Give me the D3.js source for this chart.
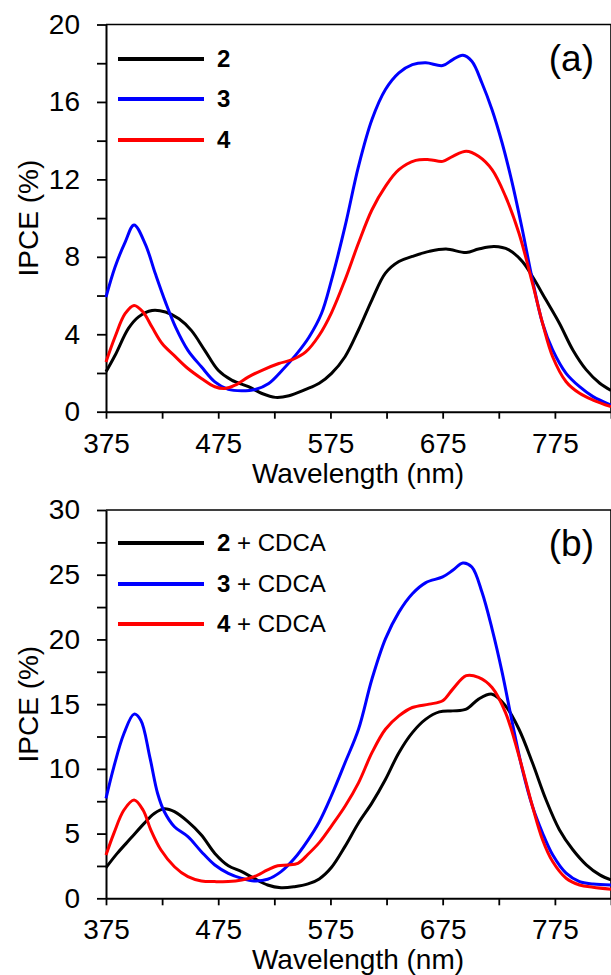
<!DOCTYPE html>
<html>
<head>
<meta charset="utf-8">
<script src="https://cdn.jsdelivr.net/npm/d3@7"></script>
<style>
  body { margin: 0; background: #fff; }
  svg { display: block; }
  text { font-family: "Liberation Sans", Arial, sans-serif; fill: #000; }
</style>
</head>
<body>
<div id="container"></div>
<script>
// ---- data ----
const xTicks = [375, 425, 475, 525, 575, 625, 675, 725, 775, 825];
const xLabels = [375, 475, 575, 675, 775];
const yTicksA = [0, 2, 4, 6, 8, 10, 12, 14, 16, 18, 20];
const yLabelsA = [0, 4, 8, 12, 16, 20];
const yTicksB = [0, 2.5, 5, 7.5, 10, 12.5, 15, 17.5, 20, 22.5, 25, 27.5, 30];
const yLabelsB = [0, 5, 10, 15, 20, 25, 30];

// panel (a)
const wlA2 = [375, 383, 395, 404, 416, 428, 440, 451, 463, 475, 487, 502, 514, 526, 538, 553, 565, 576, 588, 600, 612, 624, 636, 648, 663, 678, 696, 707, 721, 734, 746, 755, 767, 779, 791, 803, 815, 825];
const ipceA2 = [2.06, 2.9, 4.3, 4.9, 5.23, 5.15, 4.8, 4.2, 3.17, 2.14, 1.63, 1.29, 0.94, 0.74, 0.82, 1.15, 1.47, 1.98, 2.84, 4.22, 5.78, 7.16, 7.76, 8.02, 8.28, 8.4, 8.22, 8.4, 8.53, 8.36, 7.76, 6.98, 5.78, 4.57, 3.19, 2.16, 1.47, 1.1];
const wlA3 = [375, 383, 392, 400, 410, 419, 428, 437, 448, 460, 472, 484, 496, 508, 520, 532, 544, 556, 567, 576, 588, 600, 612, 624, 636, 648, 660, 675, 684, 693, 701, 710, 719, 728, 737, 746, 755, 764, 773, 785, 797, 809, 825];
const ipceA3 = [5.92, 7.46, 8.75, 9.65, 8.66, 7.12, 5.66, 4.37, 3.17, 2.32, 1.54, 1.15, 1.08, 1.15, 1.46, 2.14, 2.92, 3.86, 5.07, 6.81, 9.57, 12.67, 15.09, 16.64, 17.5, 17.93, 18.02, 17.88, 18.19, 18.41, 18.1, 16.98, 15.6, 13.88, 11.81, 9.4, 6.81, 4.57, 3.19, 1.98, 1.29, 0.78, 0.34];
const wlA4 = [375, 383, 392, 400, 408, 416, 425, 437, 448, 460, 472, 481, 490, 502, 514, 529, 541, 553, 565, 576, 588, 600, 612, 624, 636, 651, 663, 675, 684, 696, 707, 719, 731, 743, 755, 764, 773, 785, 797, 809, 825];
const ipceA4 = [2.57, 3.86, 5.06, 5.49, 5.15, 4.37, 3.52, 2.83, 2.23, 1.72, 1.29, 1.2, 1.37, 1.8, 2.14, 2.49, 2.69, 3.09, 3.95, 5.12, 6.81, 8.71, 10.43, 11.64, 12.5, 12.98, 13.02, 12.93, 13.19, 13.45, 13.19, 12.5, 11.12, 9.22, 6.64, 4.57, 2.84, 1.55, 0.95, 0.6, 0.26];

// panel (b)
const wlB2 = [375, 385, 397, 409, 418, 427, 436, 448, 460, 472, 484, 496, 507, 519, 531, 543, 555, 565, 576, 588, 600, 612, 624, 636, 648, 660, 672, 684, 696, 707, 719, 731, 743, 755, 767, 779, 791, 803, 815, 825];
const ipceB2 = [2.37, 3.47, 4.63, 5.79, 6.56, 6.92, 6.69, 5.92, 4.89, 3.47, 2.52, 2.06, 1.54, 1.03, 0.82, 0.9, 1.11, 1.5, 2.4, 4.01, 5.82, 7.37, 9.18, 11.25, 12.8, 13.84, 14.4, 14.48, 14.61, 15.39, 15.77, 14.87, 13.06, 10.47, 7.63, 5.3, 3.75, 2.59, 1.81, 1.42];
const wlB3 = [375, 382, 391, 400, 406, 414, 421, 427, 436, 448, 460, 472, 484, 496, 507, 519, 531, 543, 555, 565, 576, 588, 600, 612, 624, 636, 648, 660, 675, 684, 693, 701, 710, 719, 728, 737, 746, 755, 764, 773, 785, 797, 809, 825];
const ipceB3 = [7.72, 10.16, 12.73, 14.23, 13.76, 10.93, 8.1, 6.69, 5.53, 4.76, 3.6, 2.57, 1.93, 1.54, 1.34, 1.47, 2.06, 3.09, 4.5, 5.9, 7.95, 10.47, 13.06, 16.94, 20.04, 22.11, 23.53, 24.39, 24.83, 25.34, 25.91, 25.6, 23.66, 20.82, 17.46, 13.58, 9.96, 7.11, 5.04, 3.36, 1.94, 1.29, 1.11, 1.03];
const wlB4 = [375, 382, 391, 400, 408, 415, 424, 436, 448, 460, 472, 484, 496, 507, 519, 528, 537, 546, 555, 565, 576, 588, 600, 612, 624, 636, 648, 663, 675, 684, 696, 707, 719, 731, 743, 755, 764, 773, 785, 797, 809, 825];
const ipceB4 = [3.34, 5.02, 6.82, 7.59, 6.82, 5.27, 3.73, 2.44, 1.67, 1.34, 1.29, 1.29, 1.41, 1.67, 2.19, 2.52, 2.57, 2.7, 3.4, 4.3, 5.6, 7.11, 8.92, 11.25, 13.06, 14.09, 14.74, 15.0, 15.26, 16.16, 17.2, 17.07, 16.29, 14.35, 10.99, 7.11, 4.53, 2.84, 1.55, 1.03, 0.85, 0.7];

const colors = ["#000000", "#0000ff", "#ff0000"];
const legendIds = ["2", "3", "4"];

const w = 611, h = 975;
const left = 106, right = 611;

const svg = d3.select("#container").append("svg")
  .attr("width", w).attr("height", h);

const x = d3.scaleLinear().domain([375, 825]).range([left, right]);

function panel(opts) {
  const y = d3.scaleLinear().domain([0, opts.ymax]).range([opts.bottom, opts.top]);
  const g = svg.append("g");

  // frame top and right
  g.append("path")
    .attr("d", "M" + left + "," + opts.top + "H" + right + "V" + opts.bottom)
    .attr("fill", "none").attr("stroke", "#000").attr("stroke-width", 1.6);

  const xAxis = d3.axisBottom(x)
    .tickValues(xTicks)
    .tickSizeInner(7).tickSizeOuter(0).tickPadding(14)
    .tickFormat(d => xLabels.includes(d) ? d : "");
  const gx = g.append("g")
    .attr("transform", "translate(0," + opts.bottom + ")")
    .call(xAxis);

  const yAxis = d3.axisLeft(y)
    .tickValues(opts.yTicks)
    .tickSizeInner(9).tickSizeOuter(0).tickPadding(17)
    .tickFormat(d => opts.yLabels.includes(d) ? d : "");
  const gy = g.append("g")
    .attr("transform", "translate(" + left + ",0)")
    .call(yAxis);

  [gx, gy].forEach(a => {
    a.select(".domain").attr("stroke-width", 2);
    a.selectAll(".tick line").attr("stroke-width", 1.8);
    a.selectAll("text").attr("font-size", 28).attr("font-family", "Liberation Sans, Arial, sans-serif");
  });

  g.append("text")
    .attr("x", (left + 610) / 2).attr("y", opts.bottom + 71)
    .attr("text-anchor", "middle").attr("font-size", 28)
    .text("Wavelength (nm)");

  g.append("text")
    .attr("transform", "translate(38," + (opts.top + opts.bottom) / 2 + ") rotate(-90)")
    .attr("text-anchor", "middle").attr("font-size", 28)
    .text("IPCE (%)");

  g.append("text")
    .attr("x", 594).attr("y", opts.tagY)
    .attr("text-anchor", "end").attr("font-size", 37)
    .text(opts.tag);

  const line = d3.line()
    .x(d => x(d[0]))
    .y(d => y(d[1]))
    .curve(d3.curveCatmullRom.alpha(0.5));

  opts.series.forEach((s, i) => {
    g.append("path")
      .datum(d3.zip(s.wl, s.v))
      .attr("fill", "none")
      .attr("stroke", colors[i])
      .attr("stroke-width", 3)
      .attr("stroke-linejoin", "round")
      .attr("d", line);
  });

  // legend
  opts.legendY.forEach((ly, i) => {
    g.append("line")
      .attr("x1", 118).attr("x2", 204).attr("y1", ly).attr("y2", ly)
      .attr("stroke", colors[i]).attr("stroke-width", 4);
    const t = g.append("text")
      .attr("x", 217).attr("y", ly + 8).attr("font-size", 24);
    t.append("tspan").attr("font-weight", "bold").text(legendIds[i]);
    if (opts.suffix) t.append("tspan").text(opts.suffix);
  });
}

panel({
  top: 24.5, bottom: 411.7, ymax: 20,
  yTicks: yTicksA, yLabels: yLabelsA,
  tag: "(a)", tagY: 71,
  legendY: [59, 99, 140], suffix: null,
  series: [{wl: wlA2, v: ipceA2}, {wl: wlA3, v: ipceA3}, {wl: wlA4, v: ipceA4}]
});

panel({
  top: 510, bottom: 898.3, ymax: 30,
  yTicks: yTicksB, yLabels: yLabelsB,
  tag: "(b)", tagY: 556,
  legendY: [543, 584, 624], suffix: " + CDCA",
  series: [{wl: wlB2, v: ipceB2}, {wl: wlB3, v: ipceB3}, {wl: wlB4, v: ipceB4}]
});
</script>
</body>
</html>
